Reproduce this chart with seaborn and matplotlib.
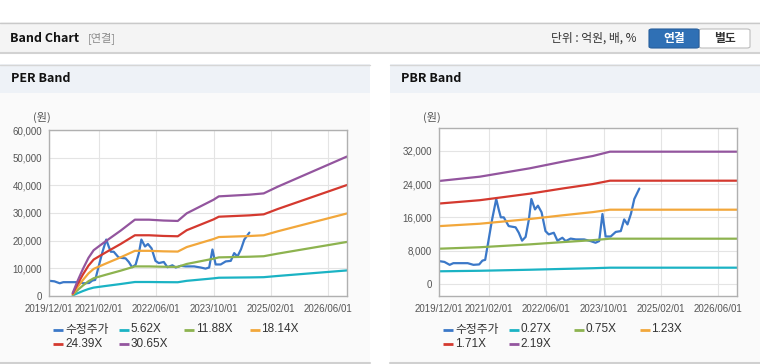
import pandas as pd
import matplotlib
matplotlib.use('Agg')
import matplotlib.pyplot as plt
import matplotlib.dates as mdates
from matplotlib.patches import Rectangle, FancyBboxPatch
from matplotlib.lines import Line2D
from matplotlib.ticker import FuncFormatter, FixedLocator
import seaborn as sns

# adjusted close price (수정주가)
price_dates = ['2019-12-01', '2020-01-16', '2020-03-01', '2020-04-01', '2020-06-01', '2020-08-01',
               '2020-09-19', '2020-11-07', '2020-12-04', '2020-12-28', '2021-02-25', '2021-04-01',
               '2021-04-22', '2021-05-10', '2021-06-04', '2021-07-16', '2021-09-13', '2021-10-10',
               '2021-11-07', '2021-12-07', '2022-01-04', '2022-01-25', '2022-02-25', '2022-03-22',
               '2022-04-22', '2022-05-25', '2022-06-22', '2022-08-04', '2022-09-04', '2022-10-16',
               '2022-11-13', '2022-12-25', '2023-02-07', '2023-04-19', '2023-06-13', '2023-07-25',
               '2023-08-25', '2023-09-22', '2023-10-19', '2023-12-01', '2024-01-13', '2024-02-25',
               '2024-03-25', '2024-04-22', '2024-05-22', '2024-06-19', '2024-08-01']
price_values = [5500, 5300, 4600, 5000, 5000, 5000,
                4600, 4700, 5600, 5800, 15500, 20400,
                17900, 16000, 16000, 13900, 13600, 12300,
                10400, 11300, 15500, 20400, 17900, 18800,
                17200, 12700, 11900, 12300, 10400, 11100,
                10300, 10900, 10700, 10700, 10300, 9900,
                10300, 16800, 11400, 11400, 12500, 12700,
                15500, 14300, 16900, 20400, 22900]

# EPS behind the PER bands
eps_dates = ['2020-06-20', '2020-08-01', '2020-09-15', '2020-11-01', '2020-12-15', '2021-02-01',
             '2021-04-01', '2021-08-01', '2021-12-01', '2022-04-01', '2022-08-01', '2022-12-01',
             '2023-02-15', '2023-10-01', '2023-11-15', '2024-08-01', '2024-12-01', '2025-04-01',
             '2026-11-10']
eps_values = [36, 180, 320, 450, 540, 590,
              650, 770, 900, 900, 890, 885,
              975, 1135, 1175, 1195, 1210, 1290,
              1645]
per_multiples = [5.62, 11.88, 18.14, 24.39, 30.65]

# BPS behind the PBR bands
bps_dates = ['2019-12-01', '2020-11-12', '2022-01-12', '2022-10-20', '2023-07-03', '2023-11-25',
             '2026-11-10']
bps_values = [11290, 11760, 12680, 13410, 14030, 14500, 14500]
pbr_multiples = [0.27, 0.75, 1.23, 1.71, 2.19]

x_ticks = ['2019-12-01', '2021-02-01', '2022-06-01', '2023-10-01', '2025-02-01', '2026-06-01']
x_end = '2026-11-10'

price_color = '#3b78c8'
band_colors = ['#1bb3c4', '#8db34f', '#f2a73b', '#d4392f', '#93559e']

W, H = 760, 364

sns.set_theme(style='white')
plt.rcParams['font.family'] = ['Liberation Sans', 'Noto Sans CJK KR', 'DejaVu Sans']

fig = plt.figure(figsize=(W / 100, H / 100), dpi=100)
fig.patch.set_facecolor('white')


def rect(x, y, w, h, **kw):
    r = Rectangle((x / W, 1 - (y + h) / H), w / W, h / H, transform=fig.transFigure, zorder=-5, **kw)
    fig.add_artist(r)


def hline(x0, x1, y, color, lw=1):
    fig.add_artist(Line2D([x0 / W, x1 / W], [1 - y / H, 1 - y / H], transform=fig.transFigure,
                          color=color, lw=lw, zorder=-4))


def ftext(x, y, s, **kw):
    fig.text(x / W, 1 - y / H, s, **kw)


# top bar
rect(0, 22, W, 31, facecolor='#f4f4f4', edgecolor='none')
hline(0, W, 22.5, '#c9c9c9')
hline(0, W, 53, '#d2d2d2', lw=1.5)
ftext(10, 38, 'Band Chart', fontsize=9, fontweight='bold', color='#111111', va='center',
      family=['Noto Sans CJK KR'])
ftext(88, 38, '[연결]', fontsize=8, color='#8a8a8a', va='center', family=['Noto Sans CJK KR'])
ftext(551, 38.5, '단위 : 억원, 배, %', fontsize=8.5, color='#333333', va='center',
      family=['Noto Sans CJK KR', 'DejaVu Sans'])
fig.add_artist(FancyBboxPatch((699 / W, 1 - 48 / H), 51 / W, 19 / H, boxstyle='round,pad=0,rounding_size=0.004',
                              transform=fig.transFigure, facecolor='white', edgecolor='#bdbdbd', lw=0.8))
fig.add_artist(FancyBboxPatch((649 / W, 1 - 48 / H), 50 / W, 19 / H, boxstyle='round,pad=0,rounding_size=0.004',
                              transform=fig.transFigure, facecolor='#2f70b5', edgecolor='#285f9c', lw=0.8))
ftext(674, 38.5, '연결', fontsize=8.5, fontweight='bold', color='white', ha='center', va='center',
      family=['Noto Sans CJK KR'])
ftext(724.5, 38.5, '별도', fontsize=8.5, fontweight='bold', color='#333333', ha='center', va='center',
      family=['Noto Sans CJK KR'])

price_df = pd.DataFrame({'date': pd.to_datetime(price_dates), 'value': price_values, 'series': '수정주가'})


def band_frame(dates, base, multiples):
    frames = []
    for m in multiples:
        frames.append(pd.DataFrame({'date': pd.to_datetime(dates),
                                    'value': [b * m for b in base],
                                    'series': f'{m:.2f}X'}))
    return pd.concat(frames, ignore_index=True)


panels = [
    dict(title='PER Band', px=0, pw=370, ax_box=(49, 130, 298, 166), ylim=(0, 60000),
         yticks=[0, 10000, 20000, 30000, 40000, 50000, 60000],
         bands=band_frame(eps_dates, eps_values, per_multiples), unit_x=33, leg_x=53),
    dict(title='PBR Band', px=390, pw=370, ax_box=(439, 128, 298, 168), ylim=(-2880, 37440),
         yticks=[0, 8000, 16000, 24000, 32000],
         bands=band_frame(bps_dates, bps_values, pbr_multiples), unit_x=423, leg_x=443),
]

for p in panels:
    # panel frame
    rect(p['px'], 64, p['pw'], 29, facecolor='#eef2f7', edgecolor='none')
    rect(p['px'], 93, p['pw'], 270, facecolor='#fafafa', edgecolor='none')
    hline(p['px'], p['px'] + p['pw'], 64.5, '#d6d6d6')
    hline(p['px'], p['px'] + p['pw'], 363, '#d0d0d0', lw=1.5)
    ftext(p['px'] + 11, 79, p['title'], fontsize=9, fontweight='bold', color='#111111', va='center',
          family=['Noto Sans CJK KR'])
    ftext(p['unit_x'], 117, '(원)', fontsize=8, color='#555555', va='center', family=['Noto Sans CJK KR'])

    x, y, w, h = p['ax_box']
    ax = fig.add_axes([x / W, 1 - (y + h) / H, w / W, h / H])
    ax.set_facecolor('white')

    data = pd.concat([price_df, p['bands']], ignore_index=True)
    order = ['수정주가'] + list(p['bands']['series'].unique())
    palette = dict(zip(order, [price_color] + band_colors))
    sns.lineplot(data=data, x='date', y='value', hue='series', hue_order=order, palette=palette,
                 ax=ax, linewidth=1.6, legend=False, estimator=None, sort=False)

    ax.set_xlim(pd.Timestamp(x_ticks[0]), pd.Timestamp(x_end))
    ax.set_ylim(*p['ylim'])
    ax.xaxis.set_major_locator(FixedLocator(mdates.date2num(pd.to_datetime(x_ticks))))
    ax.xaxis.set_major_formatter(mdates.DateFormatter('%Y/%m/%d'))
    ax.set_yticks(p['yticks'])
    ax.yaxis.set_major_formatter(FuncFormatter(lambda v, _: f'{v:,.0f}'))
    ax.grid(True, color='#e4e4e4', lw=0.8)
    ax.set_axisbelow(True)
    ax.set_xlabel('')
    ax.set_ylabel('')
    ax.tick_params(axis='both', labelsize=7, colors='#555555', length=3, width=0.8, pad=2)
    ax.tick_params(axis='both', color='#b5b5b5')
    ax.tick_params(axis='x', pad=3)
    for s in ax.spines.values():
        s.set_color('#b0b0b0')
        s.set_linewidth(1)

    # legend, fixed columns like the original widget
    for i, name in enumerate(order):
        col, row = i % 4, i // 4
        lx = p['leg_x'] + col * 65.5
        ly = 329.5 + row * 14.5
        fig.add_artist(Line2D([lx / W, (lx + 10) / W], [1 - ly / H, 1 - ly / H], transform=fig.transFigure,
                              color=palette[name], lw=2, solid_capstyle='butt'))
        ftext(lx + 12, ly, name, fontsize=8.5, color='#333333', va='center')

fig.savefig('out.png', dpi=100)
